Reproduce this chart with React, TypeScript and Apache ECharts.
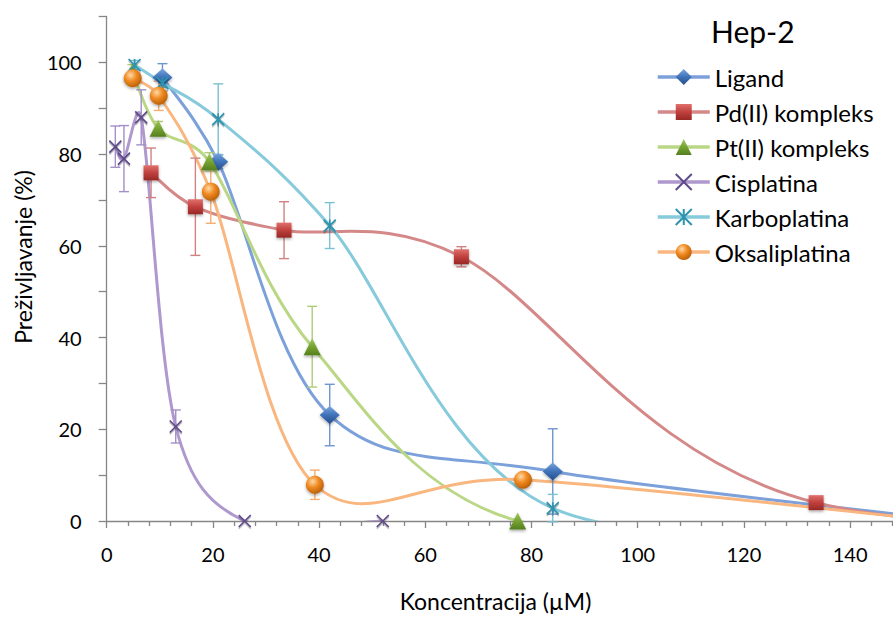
import React, { useEffect, useRef } from 'react';
import * as echarts from 'echarts';

// ---- data (concentration in µM, survival in %) ----
// last value of most series lies beyond the visible x range (continues the curve off-chart)
const ligandX = [10.5, 21, 42, 84, 168];
const ligandY = [96.7, 78.3, 23.1, 10.8, -1];
const ligandErr = [3, 1.5, 6.7, 9.3, 0];

const pdX = [8.35, 16.7, 33.4, 66.8, 133.6, 267.2];
const pdY = [75.9, 68.5, 63.4, 57.6, 4, 0];
const pdErr = [5.4, 10.6, 6.2, 2.2, 1.2, 0];

const ptX = [4.84, 9.68, 19.35, 38.7, 77.4, 154.8];
const ptY = [98, 85.6, 78.3, 38, 0, 0];
const ptErr = [1.5, 1.5, 2, 8.8, 0, 0];

const cisX = [1.625, 3.25, 6.5, 13, 26, 52];
const cisY = [81.6, 79, 88, 20.6, 0, 0];
const cisErr = [4.5, 7.2, 6, 3.6, 0, 0];

const karboX = [5.25, 10.5, 21, 42, 84, 168];
const karboY = [99.4, 95.5, 87.6, 64.4, 2.8, 0];
const karboErr = [1, 1, 7.7, 5, 3, 0];

const oksaliX = [4.9, 9.8, 19.6, 39.2, 78.4, 156.8];
const oksaliY = [96.5, 92.7, 71.8, 7.9, 9, 0];
const oksaliErr = [1.5, 3.2, 6.9, 3.2, 0.8, 0];

const yTickLabels = [0, 20, 40, 60, 80, 100];
const xTickLabels = [0, 20, 40, 60, 80, 100, 120, 140];

const FONT = 'Lato';

const lin = (a: string, b: string, c: string) => ({
  type: 'linear', x: 0, y: 0, x2: 0, y2: 1,
  colorStops: [{ offset: 0, color: a }, { offset: 0.5, color: b }, { offset: 1, color: c }],
});

const seriesDefs = [
  { name: 'Ligand', xs: ligandX, ys: ligandY, es: ligandErr, line: '#7BA0DA', err: '#6F95CF',
    symbol: 'diamond', size: [20, 18], fill: lin('#7AA6DE', '#3F72B8', '#244F8C'), stroke: undefined as any, bw: 0 },
  { name: 'Pd(II) kompleks', xs: pdX, ys: pdY, es: pdErr, line: '#D48888', err: '#D08282',
    symbol: 'rect', size: 15, fill: lin('#E0706C', '#C0403D', '#962826'), stroke: undefined, bw: 0 },
  { name: 'Pt(II) kompleks', xs: ptX, ys: ptY, es: ptErr, line: '#B9D785', err: '#AFCB7A',
    symbol: 'triangle', size: [17, 17], fill: lin('#A0C85E', '#76A332', '#557F1E'), stroke: undefined, bw: 0 },
  { name: 'Cisplatina', xs: cisX, ys: cisY, es: cisErr, line: '#AE98CE', err: '#A48FC6',
    symbol: 'path://M0,0L10,10M10,0L0,10', size: 12, fill: '#5F4A8B', stroke: '#5F4A8B', bw: 1.6 },
  { name: 'Karboplatina', xs: karboX, ys: karboY, es: karboErr, line: '#86CADB', err: '#7CC1D3',
    symbol: 'path://M0,0L10,10M10,0L0,10M5,0L5,10', size: 12, fill: '#2F93AE', stroke: '#2F93AE', bw: 1.6 },
  { name: 'Oksaliplatina', xs: oksaliX, ys: oksaliY, es: oksaliErr, line: '#F9B77F', err: '#F2AE74',
    symbol: 'circle', size: 18,
    fill: { type: 'radial', x: 0.38, y: 0.32, r: 0.75,
      colorStops: [{ offset: 0, color: '#FFD9A8' }, { offset: 0.45, color: '#F08A22' }, { offset: 1, color: '#B35A06' }] },
    stroke: undefined, bw: 0 },
];

// Excel-like smoothed segment (Catmull-Rom style bezier with limited tangent length)
function segment(p0: number[], p1: number[], p2: number[], p3: number[]) {
  const d12 = Math.hypot(p2[0] - p1[0], p2[1] - p1[1]);
  const lim = (v: number[]) => {
    const l = Math.hypot(v[0], v[1]);
    const m = d12 / 2;
    return l > m && l > 0 ? [v[0] * m / l, v[1] * m / l] : v;
  };
  const t1 = lim([(p2[0] - p0[0]) / 6, (p2[1] - p0[1]) / 6]);
  const t2 = lim([(p3[0] - p1[0]) / 6, (p3[1] - p1[1]) / 6]);
  return {
    x1: p1[0], y1: p1[1], x2: p2[0], y2: p2[1],
    cpx1: p1[0] + t1[0], cpy1: p1[1] + t1[1],
    cpx2: p2[0] - t2[0], cpy2: p2[1] - t2[1],
  };
}

export default function App() {
  const ref = useRef<HTMLDivElement>(null);
  useEffect(() => {
    const chart = echarts.init(ref.current!, null, { renderer: 'svg' });

    const curveSeries = seriesDefs.map((d) => ({
      type: 'custom',
      name: d.name + ' curve',
      silent: true,
      z: 2,
      clip: true,
      encode: { x: 0, y: 1 },
      data: d.xs.map((x, i) => [x, d.ys[i]]),
      renderItem: (params: any, api: any) => {
        const i = params.dataIndex;
        const n = d.xs.length;
        if (i >= n - 1) return { type: 'group', children: [] };
        const P = (k: number) => {
          const j = Math.max(0, Math.min(n - 1, k));
          return api.coord([d.xs[j], d.ys[j]]);
        };
        return {
          type: 'bezierCurve',
          shape: segment(P(i - 1), P(i), P(i + 1), P(i + 2)),
          style: { stroke: d.line, lineWidth: 3, fill: null },
        };
      },
    }));

    const errSeries = seriesDefs.map((d) => ({
      type: 'custom',
      name: d.name + ' err',
      silent: true,
      z: 2,
      clip: false,
      encode: { x: 0, y: 1 },
      data: d.xs.map((x, i) => [x, d.ys[i], d.es[i]]).filter((p) => p[2] > 0),
      renderItem: (params: any, api: any) => {
        const x = api.value(0), y = api.value(1), e = api.value(2);
        const p1 = api.coord([x, y + e]);
        const p2 = api.coord([x, y - e]);
        const w = 5;
        const style = { stroke: d.err, lineWidth: 1.4 };
        return {
          type: 'group',
          children: [
            { type: 'line', shape: { x1: p1[0], y1: p1[1], x2: p2[0], y2: p2[1] }, style },
            { type: 'line', shape: { x1: p1[0] - w, y1: p1[1], x2: p1[0] + w, y2: p1[1] }, style },
            { type: 'line', shape: { x1: p2[0] - w, y1: p2[1], x2: p2[0] + w, y2: p2[1] }, style },
          ],
        };
      },
    }));

    const markerSeries = seriesDefs.map((d) => ({
      type: 'line',
      name: d.name,
      z: 3,
      clip: true,
      data: d.xs.map((x, i) => [x, d.ys[i]]),
      symbol: d.symbol,
      symbolSize: d.size,
      showSymbol: true,
      lineStyle: { color: d.line, width: 3, opacity: 0 },
      itemStyle: {
        color: d.fill,
        borderColor: d.stroke,
        borderWidth: d.bw,
        shadowBlur: d.bw ? 0 : 3,
        shadowColor: 'rgba(0,0,0,0.35)',
        shadowOffsetY: 1.5,
      },
    }));

    chart.setOption({
      animation: false,
      backgroundColor: '#ffffff',
      grid: { left: 106.7, top: 16.4, width: 849.6, height: 504.6, containLabel: false },
      xAxis: {
        type: 'value', min: 0, max: 160, interval: 20,
        axisLine: { show: true, lineStyle: { color: '#868686', width: 1.3 } },
        axisTick: { show: true, length: 7, lineStyle: { color: '#868686', width: 1.3 } },
        minorTick: { show: true, splitNumber: 5, length: 5, lineStyle: { color: '#868686', width: 1.3 } },
        splitLine: { show: false },
        axisLabel: { margin: 23, color: '#000', fontFamily: FONT, fontSize: 20,
          formatter: (v: number) => (xTickLabels.indexOf(v) >= 0 ? String(v) : '') },
      },
      yAxis: {
        type: 'value', min: 0, max: 110, interval: 10,
        axisLine: { show: true, lineStyle: { color: '#868686', width: 1.3 } },
        axisTick: { show: true, length: 8, lineStyle: { color: '#868686', width: 1.3 } },
        splitLine: { show: false },
        axisLabel: { margin: 25, color: '#000', fontFamily: FONT, fontSize: 20,
          formatter: (v: number) => (yTickLabels.indexOf(v) >= 0 ? String(v) : '') },
      },
      legend: {
        data: seriesDefs.map((d) => ({ name: d.name, lineStyle: { color: d.line, width: 3.5, opacity: 1 } })),
        orient: 'vertical',
        left: 651, top: 60,
        itemWidth: 52, itemHeight: 20, itemGap: 11,
        textStyle: { fontFamily: FONT, fontSize: 24, color: '#000' },
        selectedMode: false,
      },
      graphic: [
        { type: 'text', x: 711, y: 31, style: { text: 'Hep-2', fontFamily: FONT, fontSize: 30, fill: '#000', align: 'left', verticalAlign: 'middle' } },
        { type: 'text', x: 495.5, y: 601, style: { text: 'Koncentracija (µM)', fontFamily: FONT, fontSize: 23, fill: '#000', align: 'center', verticalAlign: 'middle' } },
        { type: 'text', x: 23, y: 257, rotation: Math.PI / 2, style: { text: 'Preživljavanje (%)', fontFamily: FONT, fontSize: 23, fill: '#000', align: 'center', verticalAlign: 'middle' } },
      ],
      series: [...curveSeries, ...errSeries, ...markerSeries],
    } as any);

    return () => chart.dispose();
  }, []);
  return (
    <div style={{ position: 'fixed', left: 0, top: 0, width: 893, height: 617, overflow: 'hidden', background: '#fff' }}>
      <div ref={ref} style={{ width: 970, height: 617 }} />
    </div>
  );
}
